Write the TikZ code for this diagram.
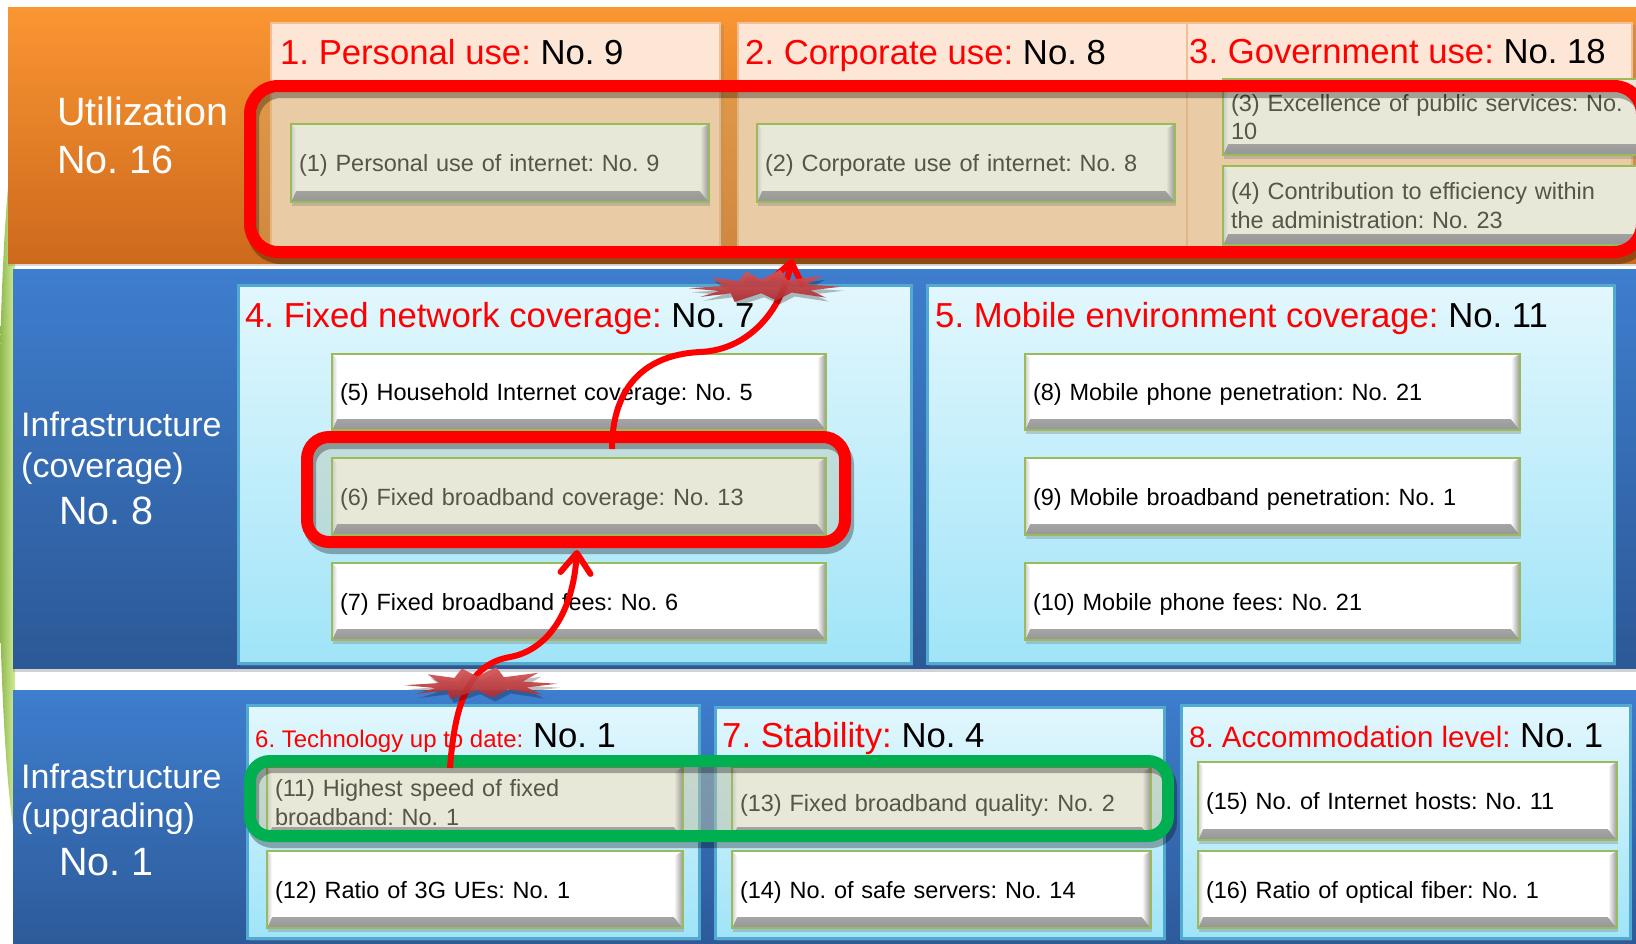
\documentclass[tikz,border=0pt]{standalone}
\usepackage{fontspec}
\setmainfont{Liberation Sans}
\usetikzlibrary{shadows,arrows.meta}
\frenchspacing
\definecolor{txtred}{RGB}{255,0,0}
\definecolor{orT}{RGB}{250,150,50}
\definecolor{orB}{RGB}{205,105,28}
\definecolor{blT}{RGB}{62,126,206}
\definecolor{blB}{RGB}{44,88,150}
\definecolor{peach}{RGB}{253,230,213}
\definecolor{peachB}{RGB}{242,190,150}
\definecolor{cyT}{RGB}{226,247,253}
\definecolor{cyB}{RGB}{160,228,248}
\definecolor{cyBorder}{RGB}{80,170,210}
\definecolor{bevgray}{RGB}{150,150,150}
\definecolor{boxedge}{RGB}{155,187,89}
\definecolor{hibox}{RGB}{232,232,216}
\definecolor{hitext}{RGB}{85,85,72}
\definecolor{tanfill}{RGB}{209,172,107}
\definecolor{greyfill}{RGB}{190,190,160}
\definecolor{hlgreen}{RGB}{0,176,80}
\definecolor{hlred}{RGB}{255,0,0}
\definecolor{boomA}{RGB}{215,85,85}
\definecolor{boomB}{RGB}{172,42,48}
\definecolor{leafA}{RGB}{110,160,45}
\definecolor{leafB}{RGB}{210,235,150}
\newcommand\myfs[2]{\fontsize{#1}{#2}\selectfont}
\tikzset{
  bev/.style={draw=boxedge, line width=1.5pt, fill=#1, outer sep=0pt, inner xsep=8pt,
    align=left, font=\myfs{23.5}{28.5},
    drop shadow={shadow xshift=1pt, shadow yshift=-4pt, opacity=0.35},
    path picture={
      \shade[top color=#1, bottom color=bevgray]
        ([xshift=5pt,yshift=11pt]path picture bounding box.south west) --
        ([xshift=-9pt,yshift=11pt]path picture bounding box.south east) --
        (path picture bounding box.south east) --
        (path picture bounding box.south west) -- cycle;
      \shade[left color=#1, right color=bevgray]
        ([xshift=-9pt,yshift=-5pt]path picture bounding box.north east) --
        (path picture bounding box.north east) --
        (path picture bounding box.south east) --
        ([xshift=-9pt,yshift=11pt]path picture bounding box.south east) -- cycle;
      \shade[right color=#1, left color=bevgray!50]
        (path picture bounding box.north west) --
        ([xshift=5pt,yshift=-5pt]path picture bounding box.north west) --
        ([xshift=5pt,yshift=11pt]path picture bounding box.south west) --
        (path picture bounding box.south west) -- cycle;
    }},
  wbox/.style={bev=white, text=black},
  hbox/.style={bev=hibox, text=hitext},
  oneline/.style={text height=22pt, text depth=5pt},
  panel/.style={draw=cyBorder, line width=3pt, top color=cyT, bottom color=cyB,
    drop shadow={shadow xshift=2pt, shadow yshift=-3pt, opacity=0.4}},
  ucol/.style={draw=peachB, line width=1.5pt, fill=peach,
    drop shadow={shadow xshift=4pt, shadow yshift=-2pt, opacity=0.25}},
  head/.style={anchor=base west, inner sep=0pt, font=\myfs{34.7}{40}, text=black},
  lbl/.style={anchor=base west, inner sep=0pt, text=white, align=left},
  hlnode/.style={inner sep=0pt, outer sep=0pt, draw=none},
  hlshadow/.style={draw=black, opacity=0.3, line width=12pt},
  redarrow/.style={draw=red, line width=6pt, -{Straight Barb[length=20pt,width=30pt,round]}},
  boom/.pic={
    \fill[black, opacity=0.25, xshift=3pt, yshift=-4pt, xscale=76, yscale=14.5]
      (-1,0.15) -- (-0.55,0) -- (-0.7,-0.6) -- (-0.35,-0.35) -- (-0.25,-1) -- (-0.05,-0.45)
      -- (0.2,-1.1) -- (0.3,-0.4) -- (0.75,-0.7) -- (0.55,-0.1) -- (1,0.05) -- (0.6,0.3)
      -- (0.8,0.8) -- (0.35,0.45) -- (0.15,1) -- (-0.05,0.5) -- (-0.4,1.1) -- (-0.45,0.5)
      -- (-0.85,0.75) -- (-0.6,0.35) -- cycle;
    \shade[top color=boomA, bottom color=boomB, fill opacity=0.92, xscale=76, yscale=14.5]
      (-1,0.15) -- (-0.55,0) -- (-0.7,-0.6) -- (-0.35,-0.35) -- (-0.25,-1) -- (-0.05,-0.45)
      -- (0.2,-1.1) -- (0.3,-0.4) -- (0.75,-0.7) -- (0.55,-0.1) -- (1,0.05) -- (0.6,0.3)
      -- (0.8,0.8) -- (0.35,0.45) -- (0.15,1) -- (-0.05,0.5) -- (-0.4,1.1) -- (-0.45,0.5)
      -- (-0.85,0.75) -- (-0.6,0.35) -- cycle;
  }
}
\begin{document}
\begin{tikzpicture}[x=1pt,y=-1pt]
\useasboundingbox (0,0) rectangle (1636,943);
\clip (0,0) rectangle (1636,943);
\fill[white] (0,0) rectangle (1636,943);
% leaf
\shade[left color=leafA, right color=leafB] (15,130) .. controls (-7,250) and (-7,720) .. (15,838)
  -- (15,130) -- cycle;
% bands
\shade[top color=orT, bottom color=orB, drop shadow={shadow xshift=0pt, shadow yshift=-3pt, opacity=0.3}] (8,7) rectangle (1645,263);
\shade[top color=blT, bottom color=blB, drop shadow={shadow xshift=0pt, shadow yshift=-4pt, opacity=0.35}] (13,269) rectangle (1645,668);
\shade[top color=blT, bottom color=blB] (13,690) rectangle (1645,960);
% utilization columns
\path[ucol] (271,23) rectangle (720,250);
\path[ucol] (738,23) rectangle (1187,250);
\path[ucol] (1187,23) rectangle (1632,250);
% panels
\path[panel] (238,285) rectangle (911,663);
\path[panel] (927,285) rectangle (1614,663);
\path[panel] (247,705) rectangle (699,938);
\path[panel] (715,707) rectangle (1164,938);
\path[panel] (1181,705) rectangle (1630,938);
% highlight fills
\node[hlnode, fill=tanfill, fill opacity=0.45, rounded corners=28pt, minimum width=1392pt, minimum height=166pt] (hlU) at (946,169) {};
\node[hlnode, fill=greyfill, fill opacity=0.35, rounded corners=22pt, minimum width=538pt, minimum height=105pt] (hl6) at (576,489.5) {};
\node[hlnode, fill=greyfill, fill opacity=0.5, rounded corners=20pt, minimum width=918pt, minimum height=75pt] (hlG) at (709,798.5) {};
% boxes
\node[hbox, oneline, text width=402pt, minimum height=78pt] (b1) at (500,163) {(1) Personal use of internet: No. 9};
\node[hbox, oneline, text width=402pt, minimum height=78pt] (b2) at (966,163) {(2) Corporate use of internet: No. 8};
\node[hbox, text width=411pt, minimum height=76pt] (b3) at (1436.5,117) {(3) Excellence of public services: No.\\10};
\node[hbox, text width=411pt, minimum height=79pt] (b4) at (1436.5,205.5) {(4) Contribution to efficiency within\\the administration: No. 23};
\node[wbox, oneline, text width=478pt, minimum height=76pt] (b5) at (579,392) {(5) Household Internet coverage: No. 5};
\node[hbox, oneline, text width=478pt, minimum height=77pt] (b6) at (579,496.5) {(6) Fixed broadband coverage: No. 13};
\node[wbox, oneline, text width=478pt, minimum height=77pt] (b7) at (579,601.5) {(7) Fixed broadband fees: No. 6};
\node[wbox, oneline, text width=479pt, minimum height=76pt] (b8) at (1272.5,392) {(8) Mobile phone penetration: No. 21};
\node[wbox, oneline, text width=479pt, minimum height=77pt] (b9) at (1272.5,496.5) {(9) Mobile broadband penetration: No. 1};
\node[wbox, oneline, text width=479pt, minimum height=77pt] (b10) at (1272.5,601.5) {(10) Mobile phone fees: No. 21};
\node[hbox, text width=400pt, minimum height=71pt] (b11) at (475,802.5) {(11) Highest speed of fixed\\broadband: No. 1};
\node[wbox, oneline, text width=400pt, minimum height=77pt] (b12) at (475,889.5) {(12) Ratio of 3G UEs: No. 1};
\node[hbox, oneline, text width=403pt, minimum height=71pt] (b13) at (941.5,802.5) {(13) Fixed broadband quality: No. 2};
\node[wbox, oneline, text width=403pt, minimum height=77pt] (b14) at (941.5,889.5) {(14) No. of safe servers: No. 14};
\node[wbox, oneline, text width=403pt, minimum height=78pt] (b15) at (1407.5,801) {(15) No. of Internet hosts: No. 11};
\node[wbox, oneline, text width=403pt, minimum height=77pt] (b16) at (1407.5,889.5) {(16) Ratio of optical fiber: No. 1};
% highlight strokes
\draw[hlshadow, rounded corners=28pt] ([xshift=3pt,yshift=-6pt]hlU.north west) rectangle ([xshift=3pt,yshift=-6pt]hlU.south east);
\draw[draw=hlred, line width=12pt, rounded corners=28pt] (hlU.north west) rectangle (hlU.south east);
\draw[hlshadow, rounded corners=22pt] ([xshift=3pt,yshift=-6pt]hl6.north west) rectangle ([xshift=3pt,yshift=-6pt]hl6.south east);
\draw[draw=hlred, line width=12pt, rounded corners=22pt] (hl6.north west) rectangle (hl6.south east);
\draw[hlshadow, rounded corners=20pt] ([xshift=3pt,yshift=-6pt]hlG.north west) rectangle ([xshift=3pt,yshift=-6pt]hlG.south east);
\draw[draw=hlgreen, line width=12pt, rounded corners=20pt] (hlG.north west) rectangle (hlG.south east);
% headings
\node[head] (hU1) at (280,64) {\textcolor{txtred}{1. Personal use:} No. 9};
\node[head] (hU2) at (745,64) {\textcolor{txtred}{2. Corporate use:} No. 8};
\node[head] (hU3) at (1189,63) {\textcolor{txtred}{3. Government use:} No. 18};
\node[head] (hC4) at (245,327) {\textcolor{txtred}{4. Fixed network coverage:} No. 7};
\node[head] (hC5) at (935,327) {\textcolor{txtred}{5. Mobile environment coverage:} No. 11};
\node[head] (hG6) at (255,747) {\textcolor{txtred}{\myfs{24}{28}6. Technology up to date:} No. 1};
\node[head] (hG7) at (722,747) {\textcolor{txtred}{7. Stability:} No. 4};
\node[head] (hG8) at (1189,747) {\textcolor{txtred}{\myfs{29.5}{35}8. Accommodation level:} No. 1};
% side labels (base anchor = last line)
\node[lbl, font=\myfs{39.5}{48}] (lU) at (57,173) {Utilization\\No. 16};
\node[lbl, font=\myfs{34}{41}] (lC) at (21,477) {Infrastructure\\(coverage)};
\node[lbl, font=\myfs{39.5}{48}] (lCn) at (59,524) {No. 8};
\node[lbl, font=\myfs{34}{39}] (lG) at (21,827) {Infrastructure\\(upgrading)};
\node[lbl, font=\myfs{39.5}{48}] (lGn) at (59,875) {No. 1};
% arrows
\draw[redarrow] ([xshift=36pt,yshift=-12pt]hl6.north) .. controls (612,392) and (640,355) .. (700,352)
  .. controls (748,350) and (781,312) .. ([xshift=-154pt,yshift=-7pt]hlU.south);
\draw[redarrow] ([xshift=-259pt,yshift=-7pt]hlG.north) .. controls (455,700) and (470,664) .. (510,657)
  .. controls (548,650) and (573,612) .. ([xshift=1pt,yshift=-8pt]hl6.south);
% explosions
\pic (s1) at (765,286) {boom};
\pic (s2) at (481,683) {boom};
\end{tikzpicture}
\end{document}
